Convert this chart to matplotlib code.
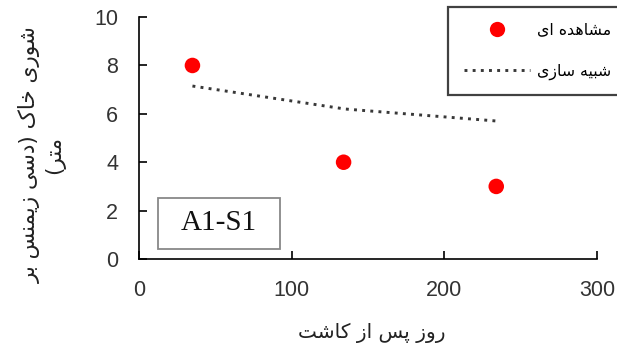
import matplotlib
matplotlib.use("Agg")
import matplotlib.pyplot as plt
from matplotlib.lines import Line2D
from matplotlib.patches import Rectangle

# ---------------- data ----------------
obs_days = [35, 134, 234]
obs_ec = [8.0, 4.0, 3.0]
sim_days = [35, 135, 235]
sim_ec = [7.15, 6.2, 5.7]
x_ticks = [0, 100, 200, 300]
y_ticks = [0, 2, 4, 6, 8, 10]
label_obs = "مشاهده ای"
label_sim = "شبیه سازی"
x_label = "روز پس از کاشت"
y_label_lines = ["شوری خاک (دسی زیمنس بر", "متر)"]
box_text = "A1-S1"

# ------------- minimal Persian shaping -------------
FORMS = {  # isolated, final, initial, medial
    'ا': ('\uFE8D', '\uFE8E', None, None),
    'ب': ('\uFE8F', '\uFE90', '\uFE91', '\uFE92'),
    'پ': ('\uFB56', '\uFB57', '\uFB58', '\uFB59'),
    'ت': ('\uFE95', '\uFE96', '\uFE97', '\uFE98'),
    'خ': ('\uFEA5', '\uFEA6', '\uFEA7', '\uFEA8'),
    'د': ('\uFEA9', '\uFEAA', None, None),
    'ر': ('\uFEAD', '\uFEAE', None, None),
    'ز': ('\uFEAF', '\uFEB0', None, None),
    'س': ('\uFEB1', '\uFEB2', '\uFEB3', '\uFEB4'),
    'ش': ('\uFEB5', '\uFEB6', '\uFEB7', '\uFEB8'),
    'م': ('\uFEE1', '\uFEE2', '\uFEE3', '\uFEE4'),
    'ن': ('\uFEE5', '\uFEE6', '\uFEE7', '\uFEE8'),
    'ه': ('\uFEE9', '\uFEEA', '\uFEEB', '\uFEEC'),
    'و': ('\uFEED', '\uFEEE', None, None),
    'ک': ('\uFB8E', '\uFB8F', '\uFB90', '\uFB91'),
    'ی': ('\uFBFC', '\uFBFD', '\uFBFE', '\uFBFF'),
}


def dual(c):
    return c in FORMS and FORMS[c][2] is not None


def shape(s):
    out = []
    for i, c in enumerate(s):
        if c not in FORMS:
            out.append(c)
            continue
        prev_c = s[i - 1] if i > 0 else ''
        next_c = s[i + 1] if i + 1 < len(s) else ''
        p = dual(prev_c)
        n = dual(c) and next_c in FORMS
        f = FORMS[c]
        if p and n:
            out.append(f[3])
        elif p:
            out.append(f[1])
        elif n:
            out.append(f[2])
        else:
            out.append(f[0])
    vis = ''.join(reversed(out))
    vis = vis.replace('(', '\0').replace(')', '(').replace('\0', ')')
    return vis


AR = ['DejaVu Sans']

# ---------------- figure ----------------
fig = plt.figure(figsize=(6.17, 3.56), dpi=100)
ax = fig.add_axes([0.2253, 0.2725, 0.7423, 0.6795])

ax.plot(sim_days, sim_ec, color='#383838', lw=2.1, linestyle=(0, (1, 1.8)),
        dash_capstyle='butt', zorder=2)
ax.scatter(obs_days, obs_ec, s=125, color='#FF0000', edgecolors='none', zorder=3)

ax.set_xlim(0, 300)
ax.set_ylim(0, 10)
ax.set_xticks(x_ticks)
ax.set_yticks(y_ticks)
for sp in ['top', 'right']:
    ax.spines[sp].set_visible(False)
for sp in ['left', 'bottom']:
    ax.spines[sp].set_linewidth(1.2)
    ax.spines[sp].set_color('black')
ax.tick_params(direction='in', length=6, width=1.2, labelsize=15.5)
ax.tick_params(axis='y', pad=15)
ax.tick_params(axis='x', pad=15)
for lab in ax.get_xticklabels() + ax.get_yticklabels():
    lab.set_fontfamily('Liberation Sans')
    lab.set_color('#333333')

# axis labels
fig.text(0.603, 0.064, shape(x_label), family=AR, fontsize=14.5,
         ha='center', va='center', color='#222222')
fig.text(0.068, 0.565, '\n'.join(shape(l) for l in y_label_lines), family=AR,
         fontsize=15.5, rotation=90, ha='center', va='center',
         multialignment='center', color='#222222', linespacing=1.25)

# text box
ax.add_patch(Rectangle((0.0415, 0.041), 0.2665, 0.211, transform=ax.transAxes,
                       fc='white', ec='#888888', lw=1.3, zorder=4))
ax.text(0.175, 0.147, box_text, transform=ax.transAxes, family='Liberation Serif',
        fontsize=21, ha='center', va='center', color='#111111', zorder=5)

# legend
handles = [
    Line2D([], [], linestyle='none', marker='o', markersize=11,
           markerfacecolor='#FF0000', markeredgecolor='none'),
    Line2D([], [], color='#383838', lw=2.1, linestyle=(0, (1, 1.8))),
]
leg = fig.legend(handles, [shape(label_obs), shape(label_sim)],
                 loc='upper left', bbox_to_anchor=(0.726, 0.981),
                 prop={'family': AR, 'size': 11.3}, frameon=True, fancybox=False,
                 edgecolor='#111111', handlelength=4.2, handletextpad=0.45,
                 borderpad=1.0, labelspacing=1.65, borderaxespad=0.0)
leg.get_frame().set_linewidth(1.6)

fig.savefig('out.png', dpi=100)
